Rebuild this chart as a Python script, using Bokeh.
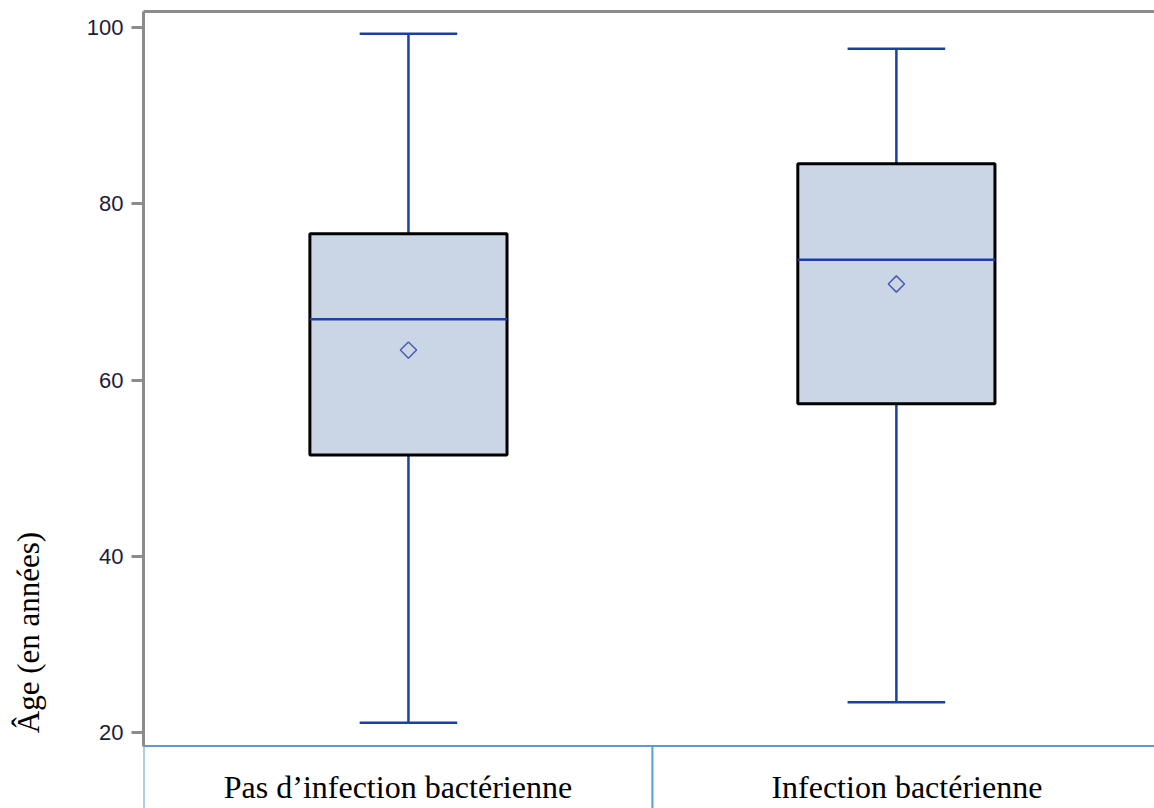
import math
from bokeh.plotting import figure
from bokeh.layouts import row
from bokeh.models import ColumnDataSource, FixedTicker, LinearAxis, Range1d
from bokeh.core.properties import value
from bokeh.embed import file_html
from bokeh.resources import INLINE

# ---- data ----
categories = ["Pas d\u2019infection bact\u00e9rienne", "Infection bact\u00e9rienne"]
whisker_max = [99.3, 97.6]
q3 = [76.6, 84.55]
median = [66.9, 73.65]
mean = [63.4, 70.9]
q1 = [51.5, 57.3]
whisker_min = [21.1, 23.45]
y_ticks = [20, 40, 60, 80, 100]
y_label = "\u00c2ge (en ann\u00e9es)"

# ---- layout constants ----
LW = 50                     # width of the strip holding the y title
W, H = 1154 - LW, 808
X_START, X_END = -0.043, 2.029
Y_START, Y_END = 11.38, 101.82
TABLE_TOP = 18.47
CELL_EDGES = [X_START, 1.0, 2.043]
BOX_W = 0.404
CAP_W = 0.2

xs = [i + 0.5 for i in range(len(categories))]

# ---- left strip with the y-axis title ----
lp = figure(width=LW, height=H, output_backend="svg", toolbar_location=None,
            x_range=Range1d(0, LW), y_range=Range1d(Y_START, Y_END),
            min_border=0, x_axis_location=None, y_axis_location=None)
lp.outline_line_color = None
lp.grid.visible = False
lp.text(x=[28], y=[31.35], text=[y_label], angle=math.pi / 2,
        text_align="center", text_baseline="middle",
        text_font=value("Liberation Serif"), text_font_size="31px", text_color="black")

# ---- main plot ----
p = figure(width=W, height=H, output_backend="svg", toolbar_location=None,
           x_range=Range1d(X_START, X_END), y_range=Range1d(Y_START, Y_END),
           min_border_top=11, min_border_right=0, min_border_bottom=0,
           min_border_left=143 - LW, x_axis_location=None)
p.outline_line_color = None
p.grid.visible = False
p.background_fill_color = "white"
p.border_fill_color = "white"

ya = p.yaxis[0]
ya.ticker = FixedTicker(ticks=y_ticks)
ya.bounds = (TABLE_TOP, Y_END)
ya.axis_line_color = "#8c8c8c"
ya.axis_line_width = 3
ya.major_tick_line_color = "#8c8c8c"
ya.major_tick_line_width = 3
ya.major_tick_out = 12
ya.major_tick_in = 0
ya.minor_tick_line_color = None
ya.major_label_standoff = 8
ya.major_label_text_font = "Liberation Sans"
ya.major_label_text_font_size = "22px"
ya.major_label_text_color = "#1c1c38"

# top border as an axis without ticks/labels
top = LinearAxis(ticker=FixedTicker(ticks=[]), axis_line_color="#8c8c8c", axis_line_width=3,
                 major_tick_line_color=None, minor_tick_line_color=None,
                 major_label_standoff=0, major_tick_out=0, major_tick_in=0)
p.add_layout(top, "above")

src = ColumnDataSource(dict(x=xs, wmax=whisker_max, q3=q3, med=median,
                            mean=mean, q1=q1, wmin=whisker_min,
                            xl=[x - BOX_W / 2 for x in xs], xr=[x + BOX_W / 2 for x in xs],
                            cl=[x - CAP_W / 2 for x in xs], cr=[x + CAP_W / 2 for x in xs]))

blue = "#1a3fa5"
p.segment(x0="x", y0="q3", x1="x", y1="wmax", source=src, line_color=blue, line_width=2.5)
p.segment(x0="x", y0="q1", x1="x", y1="wmin", source=src, line_color=blue, line_width=2.5)
p.segment(x0="cl", y0="wmax", x1="cr", y1="wmax", source=src, line_color=blue, line_width=2.5)
p.segment(x0="cl", y0="wmin", x1="cr", y1="wmin", source=src, line_color=blue, line_width=2.5)
p.vbar(x="x", width=BOX_W, top="q3", bottom="q1", source=src,
       fill_color="#cad5e5", line_color="black", line_width=3)
p.segment(x0="xl", y0="med", x1="xr", y1="med", source=src, line_color=blue, line_width=2.5)
p.scatter(x="x", y="mean", source=src, marker="square", angle=math.pi / 4, size=11.5,
          fill_color=None, line_color="#4a5cb2", line_width=1.5)

# category table below the plot
tcol = "#5b9bd5"
p.segment(x0=[X_START], y0=[TABLE_TOP], x1=[X_END + 0.1], y1=[TABLE_TOP], line_color=tcol, line_width=2)
p.segment(x0=CELL_EDGES[:2], y0=[TABLE_TOP] * 2, x1=CELL_EDGES[:2], y1=[Y_START - 5] * 2,
          line_color=tcol, line_width=2)
cell_centers = [(CELL_EDGES[i] + CELL_EDGES[i + 1]) / 2 for i in range(len(categories))]
p.text(x=cell_centers, y=[13.87] * len(categories), text=categories, text_align="center",
       text_baseline="alphabetic", text_font=value("Liberation Serif"), text_font_size="32px",
       text_color="black")

layout = row(lp, p, spacing=0)
open("out.html", "w").write(file_html(layout, INLINE))
